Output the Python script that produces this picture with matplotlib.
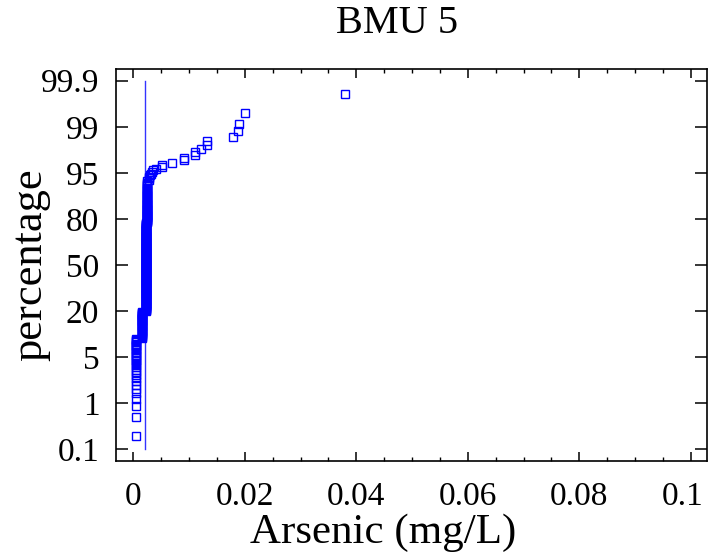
import numpy as np
import matplotlib
matplotlib.use("Agg")
import matplotlib.pyplot as plt
from matplotlib.transforms import ScaledTranslation
from statistics import NormalDist

# ---- data ----
# sorted arsenic concentrations (mg/L): distinct values and how many samples share them
arsenic_values = [0.0004, 0.0016, 0.0022, 0.0023, 0.0024,
                  0.00245, 0.0028, 0.0029, 0.0030, 0.0032, 0.0033, 0.0035,
                  0.0040, 0.0051, 0.0052, 0.0069, 0.0091, 0.0111, 0.0121,
                  0.0132, 0.0179, 0.0187, 0.0190, 0.0200, 0.0379]
arsenic_counts = [32, 32, 80, 80, 46,
                  1, 1, 2, 1, 1, 1, 1,
                  1, 1, 1, 1, 2, 2, 1,
                  2, 1, 1, 1, 1, 1]
ref_line_x = 0.0021
x_ticks = [0, 0.02, 0.04, 0.06, 0.08, 0.1]
x_tick_labels = ['0', '0.02', '0.04', '0.06', '0.08', '0.1']
y_tick_labels = ['0.1', '1', '5', '20', '50', '80', '95', '99', '99.9']

# ---- derived: normal scores (Blom plotting positions) ----
x = np.repeat(arsenic_values, arsenic_counts)
n = len(x)
nd = NormalDist()
ranks = np.arange(1, n + 1)
z = np.array([nd.inv_cdf((r - 0.375) / (n + 0.25)) for r in ranks])
zmax = nd.inv_cdf(0.999)
y_ticks = np.linspace(-zmax, zmax, len(y_tick_labels))

plt.rcParams['font.family'] = ['Liberation Serif', 'DejaVu Serif']

W, H = 709, 560
fig = plt.figure(figsize=(W / 100, H / 100), dpi=100)
L, R, T, B = 116, 707, 69.3, 461
ax = fig.add_axes([L / W, 1 - B / H, (R - L) / W, (B - T) / H])

ax.plot([ref_line_x, ref_line_x], [-zmax, zmax], color='#0000ff', lw=1.0, alpha=0.8)
ax.plot(x, z, linestyle='none', marker='s', ms=6.0, mfc='none',
        mec='#0000ff', mew=1.0)

ax.set_xlim(-0.0031, 0.1029)
ax.set_ylim(-3.286, 3.281)
ax.set_xticks(x_ticks)
ax.set_xticklabels(x_tick_labels)
ax.set_xticks(np.arange(0, 0.1001, 0.005), minor=True)
ax.set_yticks(y_ticks)
ax.set_yticklabels(y_tick_labels)

for s in ax.spines.values():
    s.set_linewidth(1.2)
ax.tick_params(axis='x', which='major', direction='in', top=True, bottom=True,
               length=6.5, width=1.1, labelsize=24, pad=15)
ax.tick_params(axis='x', which='minor', direction='in', top=True, bottom=True,
               length=3.0, width=1.0)
ax.tick_params(axis='y', which='major', direction='in', left=True, right=True,
               length=8.6, width=1.1, labelsize=24, pad=12)

last = ax.get_xticklabels()[-1]
last.set_transform(last.get_transform() + ScaledTranslation(-0.08, 0, fig.dpi_scale_trans))

fig.text(397 / W, 1 - 33 / H, 'BMU 5', ha='center', va='baseline', fontsize=29)
fig.text(383 / W, 1 - 543 / H, 'Arsenic (mg/L)', ha='center', va='baseline', fontsize=31)
fig.text(41.7 / W, 1 - 265 / H, 'percentage', ha='center', va='baseline',
         rotation=90, rotation_mode='anchor', fontsize=32)

fig.savefig('out.png', dpi=100)
